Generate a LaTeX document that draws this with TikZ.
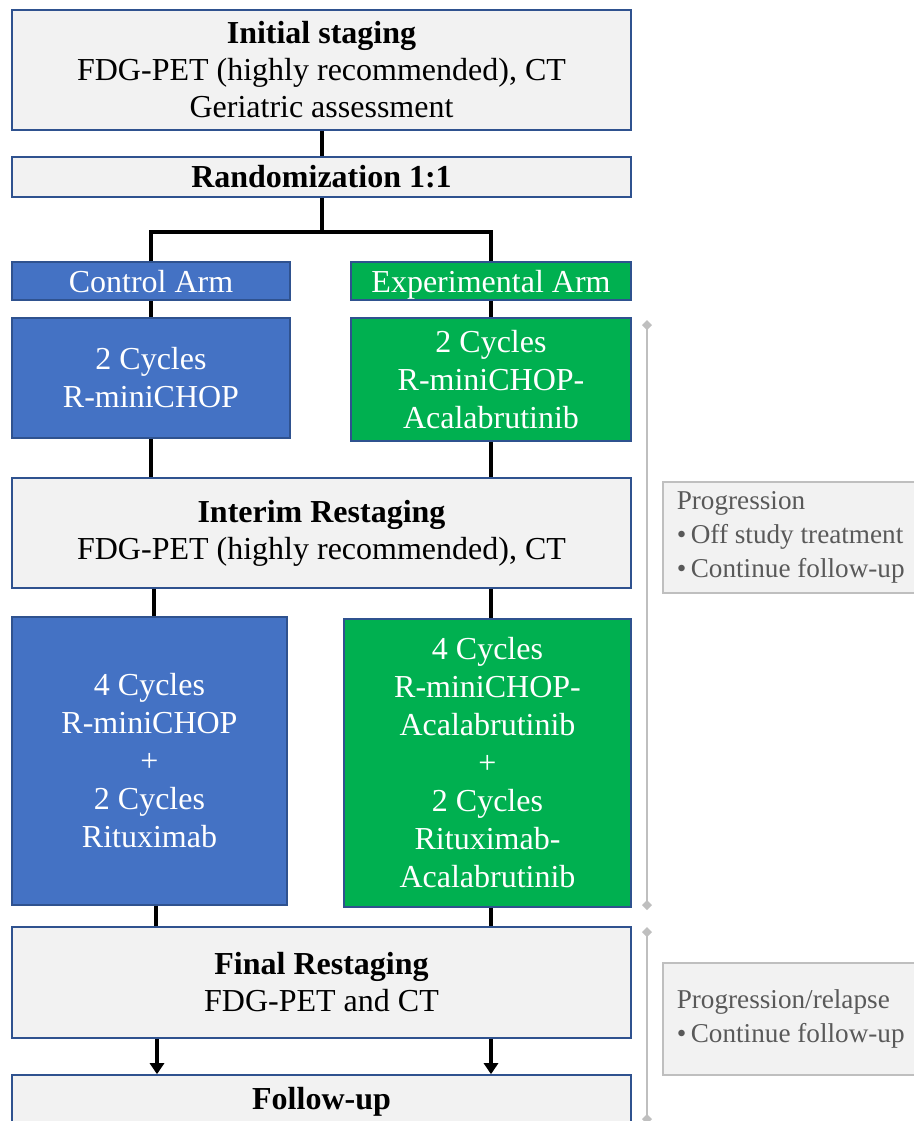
\documentclass[tikz,border=0pt]{standalone}
\usepackage{fontspec}
\setmainfont{Liberation Serif}
\usetikzlibrary{arrows.meta, positioning, calc}
\definecolor{cframe}{HTML}{2F528F}
\definecolor{cpale}{HTML}{F2F2F2}
\definecolor{cblue}{HTML}{4472C4}
\definecolor{cgreen}{HTML}{00B050}
\definecolor{cgrey}{HTML}{BFBFBF}
\definecolor{ctext}{HTML}{595959}
\tikzset{
  every picture/.style={line width=0.8pt},
  stage/.style={draw=cframe, fill=cpale, align=center, inner sep=2pt, minimum width=309.5pt,
    font=\fontsize{16}{18.5}\selectfont},
  arm/.style={draw=cframe, fill=#1, text=white, align=center, inner sep=2pt,
    font=\fontsize{16}{19}\selectfont},
  arm/.default=cblue,
  tag/.style={arm=#1, inner ysep=0pt, text height=14.4pt, text depth=3.2pt, minimum height=19pt},
  link/.style={draw=black, line width=2pt},
  flow/.style={link, -{Triangle[length=5.5pt, width=7pt]}},
  note/.style={draw=cgrey, fill=cpale, text=ctext, align=left, anchor=west, inner xsep=7pt,
    minimum width=125pt, font=\fontsize{13.6}{17}\selectfont},
  span/.style={draw=cgrey, line width=1pt, {Diamond[length=5pt, width=5pt]}-{Diamond[length=5pt, width=5pt]}},
}

\begin{document}
\begin{tikzpicture}[x=0.5pt, y=-0.5pt]
  \useasboundingbox (0,0) rectangle (914,1121);

  % main column
  \node[stage, minimum height=60pt] (init) at (321.5,70)
    {\textbf{Initial staging}\\FDG-PET (highly recommended), CT\\Geriatric assessment};
  \node[stage, minimum height=20pt] (rand) at (321.5,177) {\textbf{Randomization 1:1}};

  \node[tag=cblue, minimum width=139pt] (carm) at (151,281) {Control Arm};
  \node[tag=cgreen, minimum width=140pt] (earm) at (491,281) {Experimental Arm};

  \node[arm=cblue, minimum width=139pt, minimum height=60pt] (c2) at (151,378) {2 Cycles\\R-miniCHOP};
  \node[arm=cgreen, minimum width=140pt, minimum height=61.5pt] (e2) at (491,379.5)
    {2 Cycles\\R-miniCHOP-\\Acalabrutinib};

  \node[stage, minimum height=55pt] (interim) at (321.5,533)
    {\textbf{Interim Restaging}\\FDG-PET (highly recommended), CT};

  \node[arm=cblue, minimum width=137.5pt, minimum height=144pt] (c4) at (149.5,761)
    {4 Cycles\\R-miniCHOP\\+\\2 Cycles\\Rituximab};
  \node[arm=cgreen, minimum width=143.5pt, minimum height=144pt] (e4) at (487.5,763)
    {4 Cycles\\R-miniCHOP-\\Acalabrutinib\\+\\2 Cycles\\Rituximab-\\Acalabrutinib};

  \node[stage, minimum height=55.5pt] (final) at (321.5,982.5)
    {\textbf{Final Restaging}\\FDG-PET and CT};
  \node[stage, minimum height=27pt] (follow) at (321.5,1102) {\textbf{Follow-up}};

  % side notes
  \node[note, minimum height=55.5pt] (prog) at (662,537.5)
    {Progression\\\textbullet\,Off study treatment\\\textbullet\,Continue follow-up};
  \node[note, minimum height=56pt] (relapse) at (662,1019)
    {Progression/relapse\\\textbullet\,Continue follow-up};

  % connectors
  \coordinate (fork) at (321.5,232);
  \draw[link] (init.south) -- (rand.north);
  \draw[link] (rand.south) -- (fork);
  \draw[link] (carm.north) |- (earm.north |- fork) -- (earm.north);
  \draw[link] (carm.south) -- (c2.north);
  \draw[link] (earm.south) -- (e2.north);
  \draw[link] (c2.south) -- (c2.south |- interim.north);
  \draw[link] (e2.south) -- (e2.south |- interim.north);
  \draw[link] ($(interim.south -| c2.south)+(3,0)$) -- ($(c4.north -| c2.south)+(3,0)$);
  \draw[link] (interim.south -| e2.south) -- (e4.north -| e2.south);
  \draw[link] ($(c4.south -| c2.south)+(5,0)$) -- ($(final.north -| c2.south)+(5,0)$);
  \draw[link] (e4.south -| e2.south) -- (final.north -| e2.south);
  \draw[flow] ($(final.south -| c4.south)+(7.5,0)$) -- ($(follow.north -| c4.south)+(7.5,0)$);
  \draw[flow] (final.south -| e2.south) -- (follow.north -| e2.south);

  % treatment spans
  \coordinate (s1a) at (647,320);
  \coordinate (s1b) at (647,910);
  \coordinate (s2a) at (647,927);
  \coordinate (s2b) at (647,1124);
  \draw[span] (s1a) -- (s1b);
  \draw[span] (s2a) -- (s2b);
\end{tikzpicture}
\end{document}
